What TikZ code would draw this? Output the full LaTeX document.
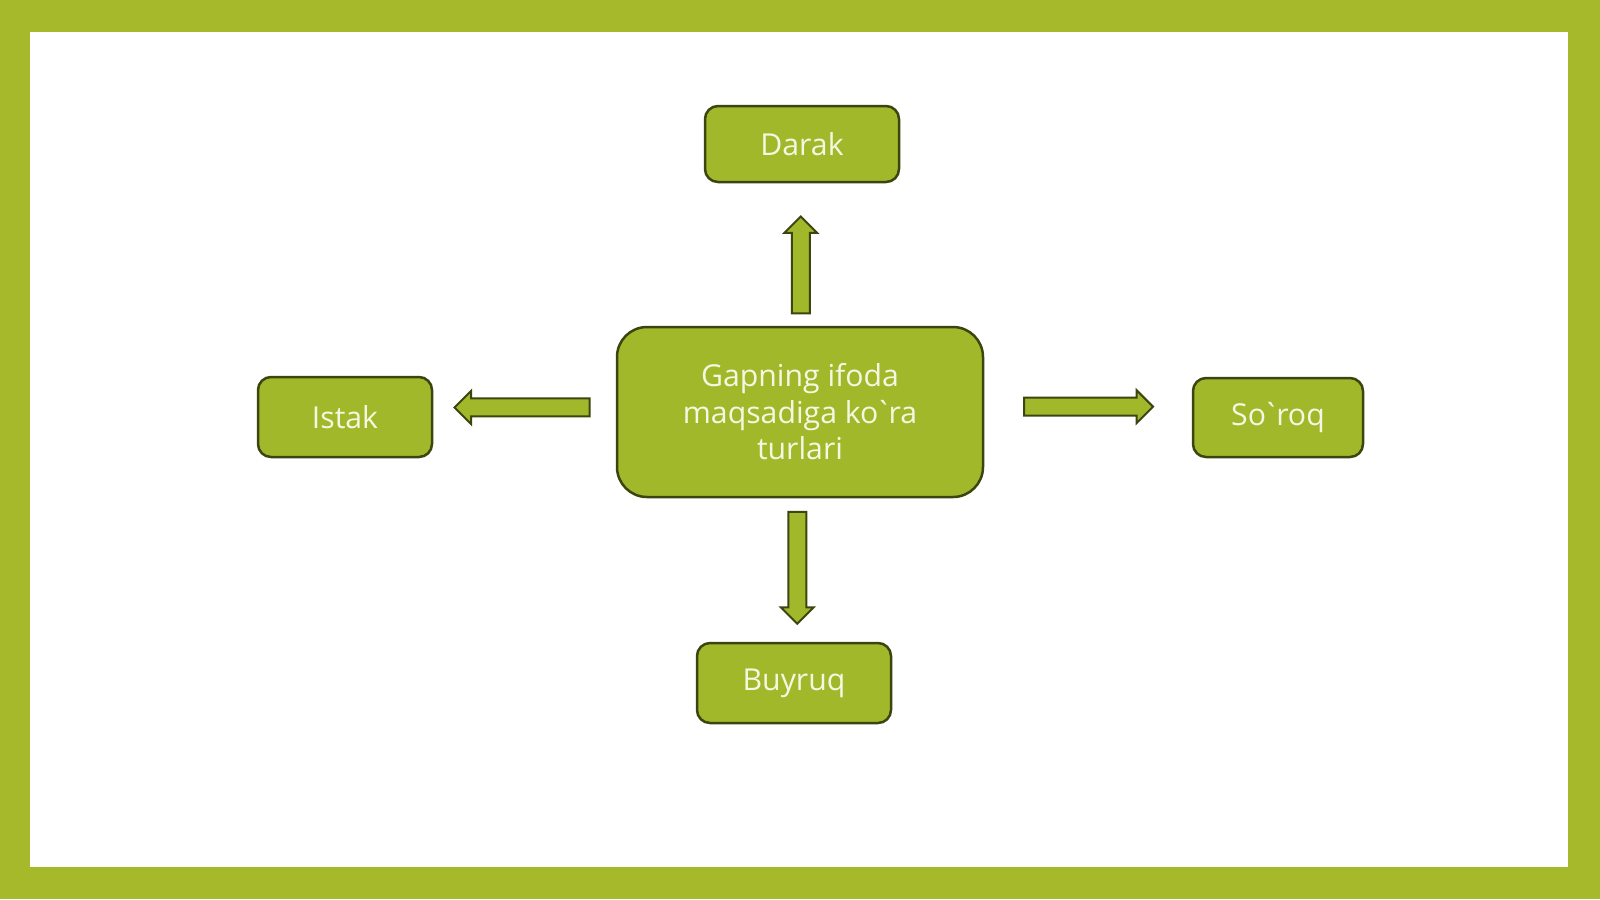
\documentclass[tikz,border=0pt]{standalone}
\usepackage{fontspec}
\setmainfont{Open Sans}
\usepackage{tikz}
\usetikzlibrary{calc,shapes.arrows}
\definecolor{framegreen}{HTML}{A5B92A}
\definecolor{boxgreen}{HTML}{A2B82B}
\definecolor{boxline}{HTML}{3C4510}
\definecolor{boxtext}{HTML}{F6F7E2}
\newcommand{\grv}{\kern-0.12em\textasciigrave\kern-0.12em}
\tikzset{
	kind/.style={draw=boxline, fill=boxgreen, line width=0.25mm, rounded corners=1.3mm, text=boxtext, font=\fontsize{8.6}{10}\selectfont, inner sep=0pt},
	blockarr/.style={single arrow, draw=boxline, fill=boxgreen, line width=0.2mm, inner xsep=0pt, inner ysep=0.8mm, single arrow head extend=0.75mm, minimum width=0pt}
}

\begin{document}
\begin{tikzpicture}[x=0.1mm, y=-0.1mm]
		%%%%% START %%%%%
		
		\fill[framegreen] (0, 0) rectangle (1600, 899);
		\fill[white] (30, 32) rectangle (1568, 867);
		
		\node[kind, rounded corners=3mm, minimum width=36.6mm, minimum height=17mm, align=center, font=\fontsize{8.6}{10.4}\selectfont] (turlar) at (800, 412) {Gapning ifoda\\maqsadiga ko\grv ra\\turlari};
		
		\node[kind, minimum width=19.4mm, minimum height=7.6mm] (darak) at (802, 144) {Darak};
		\node[kind, minimum width=17.4mm, minimum height=8mm] (istak) at (345, 417) {Istak};
		\node[kind, minimum width=17mm, minimum height=7.9mm] (soroq) at (1278, 417.5) {So\grv roq};
		\node[kind, minimum width=19.4mm, minimum height=8mm] (buyruq) at (794, 683) {Buyruq};
		
		\node[blockarr, minimum height=9.7mm, rotate=90] (updarak) at ($(turlar.north)!0.395!(darak.south)$) {};
		\node[blockarr, minimum height=11.2mm, rotate=-90] (downbuyruq) at ($(turlar.south)!0.453!(buyruq.north)$) {};
		\node[blockarr, minimum height=13.5mm, rotate=180] (leftistak) at ($(turlar.west)!0.489!(istak.east)+(0,-7)$) {};
		\node[blockarr, minimum height=12.9mm] (rightsoroq) at ($(turlar.east)!0.481!(soroq.west)+(0,-8)$) {};
		
		%%%%% END %%%%%
	\end{tikzpicture}
\end{document}
